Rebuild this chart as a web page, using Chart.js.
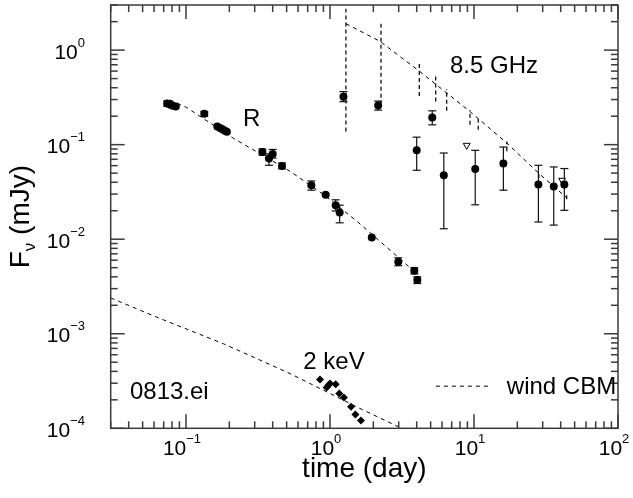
<!DOCTYPE html>
<html>
<head>
<meta charset="utf-8">
<script src="https://cdn.jsdelivr.net/npm/chart.js@4.4.0/dist/chart.umd.min.js"></script>
<style>
    html, body { margin: 0; padding: 0; background: #ffffff; }
    #plot-wrap { width: 633px; height: 498px; position: relative; }
</style>
</head>
<body>
<div id="plot-wrap"><canvas id="plot-canvas"></canvas></div>
<script>
"use strict";

// R band afterglow
const r_time = [0.074, 0.078, 0.081, 0.085, 0.134, 0.165, 0.172, 0.178, 0.185, 0.192, 0.339, 0.377, 0.400, 0.464, 0.742, 0.933, 1.095, 1.167, 1.95, 2.98, 3.85, 4.04];
const r_flux = [0.272, 0.265, 0.258, 0.254, 0.212, 0.156, 0.150, 0.146, 0.141, 0.137, 0.0836, 0.0713, 0.0796, 0.0596, 0.0373, 0.0295, 0.0228, 0.0192, 0.0104, 0.00577, 0.00464, 0.0037];
const r_lo = [0.255, null, null, null, 0.200, null, null, null, null, null, 0.0775, 0.0605, 0.072, 0.0555, 0.033, null, 0.0199, 0.0149, null, 0.00524, 0.0043, 0.0034];
const r_hi = [0.290, null, null, null, 0.224, null, null, null, null, null, 0.0900, 0.080, 0.089, 0.064, 0.0413, null, 0.0261, 0.0229, null, 0.00636, 0.0050, 0.0040];

// R band wind model
const r_model_time = [0.0774, 0.101, 0.213, 0.528, 0.898, 1.53, 4.1];
const r_model_flux = [0.298, 0.247, 0.117, 0.0523, 0.0298, 0.0156, 0.0042];

// 8.5 GHz radio
const radio_time = [1.24, 2.16, 4.00, 5.13, 6.17, 10.2, 16.0, 28.0, 35.8, 42.4];
const radio_flux = [0.322, 0.259, 0.0871, 0.194, 0.0475, 0.0554, 0.0631, 0.0379, 0.0361, 0.0379];
const radio_lo = [0.285, 0.232, 0.0536, 0.162, 0.0129, 0.0231, 0.033, 0.0152, 0.0141, 0.0202];
const radio_hi = [0.364, 0.289, 0.120, 0.228, 0.0816, 0.0871, 0.0944, 0.0605, 0.0581, 0.0559];

// 8.5 GHz upper limits
const radio_ul_time = [8.9, 40.9];
const radio_ul_flux = [0.0984, 0.042];

// 8.5 GHz model and scintillation range
const radio_model_time = [1.29, 2.22, 4.22, 9.38, 16.9, 28.0, 44.0];
const radio_model_flux = [1.905, 1.24, 0.591, 0.224, 0.104, 0.0502, 0.0274];
const scint_time = [1.29, 2.26, 4.17, 5.42, 6.46, 9.38, 10.7, 16.9, 28.2, 44.0];
const scint_lo = [0.138, 0.264, 0.328, 0.286, 0.228, 0.162, 0.144, 0.085, 0.0445, 0.0264];
const scint_hi = [2.74, 2.03, 0.766, 0.546, 0.389, 0.233, 0.199, 0.108, 0.0524, 0.031];

// 2 keV X-ray
const xray_time = [0.852, 0.948, 0.975, 1.0, 1.095, 1.16, 1.25, 1.40, 1.50, 1.64];
const xray_flux = [3.28e-4, 2.70e-4, 2.85e-4, 2.98e-4, 2.92e-4, 2.34e-4, 2.12e-4, 1.69e-4, 1.40e-4, 1.21e-4];
const xray_model_time = [0.03, 0.0625, 0.1815, 0.31, 0.528, 1.70, 2.83, 3.3];
const xray_model_flux = [2.39e-3, 1.50e-3, 7.85e-4, 5.46e-4, 3.79e-4, 1.56e-4, 1.08e-4, 9.7e-5];

// axis ticks
const x_decades = [-1, 0, 1, 2];
const y_decades = [-4, -3, -2, -1, 0];

const font_family = "'Liberation Sans', Arial, Helvetica, sans-serif";
const dash_style = [4, 4];

function toPoints(xs, ys) {
    let pts = [];
    for (let i = 0; i < xs.length; i++) {
        pts.push({ x: xs[i], y: ys[i] });
    }
    return pts;
}

function strokeLine(ctx, x0, y0, x1, y1) {
    ctx.beginPath();
    ctx.moveTo(x0, y0);
    ctx.lineTo(x1, y1);
    ctx.stroke();
}

function drawErrorBars(ctx, xs, lo, hi, xScale, yScale, cap, dash) {
    ctx.setLineDash(dash);
    for (let i = 0; i < xs.length; i++) {
        if (lo[i] === null || hi[i] === null) continue;
        const px = xScale.getPixelForValue(xs[i]);
        const py0 = yScale.getPixelForValue(lo[i]);
        const py1 = yScale.getPixelForValue(hi[i]);
        strokeLine(ctx, px, py0, px, py1);
        if (cap > 0) {
            strokeLine(ctx, px - cap, py0, px + cap, py0);
            strokeLine(ctx, px - cap, py1, px + cap, py1);
        }
    }
    ctx.setLineDash([]);
}

// label like 10^-1, anchor is 'center' (x axis) or 'right' (y axis)
function drawPowerLabel(ctx, exp, px, baseline, anchor) {
    const base = '10';
    const sup = exp < 0 ? '\u2212' + Math.abs(exp) : String(exp);
    ctx.font = '21px ' + font_family;
    const wb = ctx.measureText(base).width;
    ctx.font = '13px ' + font_family;
    const ws = ctx.measureText(sup).width;
    let left = anchor === 'right' ? px - wb - ws : px - (wb + ws) / 2;
    ctx.textAlign = 'left';
    ctx.textBaseline = 'alphabetic';
    ctx.font = '21px ' + font_family;
    ctx.fillText(base, left, baseline);
    ctx.font = '13px ' + font_family;
    ctx.fillText(sup, left + wb, baseline - 12);
}

const errorBarPlugin = {
    id: 'errorBars',
    beforeDatasetsDraw(chart) {
        const { ctx, scales } = chart;
        ctx.save();
        ctx.strokeStyle = '#111';
        ctx.lineWidth = 1.2;
        drawErrorBars(ctx, r_time, r_lo, r_hi, scales.x, scales.y, 4, []);
        drawErrorBars(ctx, radio_time, radio_lo, radio_hi, scales.x, scales.y, 4, []);
        ctx.lineWidth = 1.3;
        drawErrorBars(ctx, scint_time, scint_lo, scint_hi, scales.x, scales.y, 0, [4, 3]);
        ctx.restore();
    }
};

const framePlugin = {
    id: 'frameTicks',
    afterDraw(chart) {
        const { ctx, chartArea: a, scales } = chart;
        const xs = scales.x;
        const ys = scales.y;
        ctx.save();
        ctx.strokeStyle = '#3a3a3a';
        ctx.lineWidth = 1.5;
        ctx.strokeRect(a.left, a.top, a.right - a.left, a.bottom - a.top);

        // inward ticks on all four sides
        for (let d = -2; d <= 2; d++) {
            for (let m = 1; m <= 9; m++) {
                const v = m * Math.pow(10, d);
                if (v < xs.min * 0.999 || v > xs.max * 1.001) continue;
                const px = xs.getPixelForValue(v);
                const len = m === 1 ? 14 : 7;
                strokeLine(ctx, px, a.bottom, px, a.bottom - len);
                strokeLine(ctx, px, a.top, px, a.top + len);
            }
        }
        for (let d = -4; d <= 0; d++) {
            for (let m = 1; m <= 9; m++) {
                const v = m * Math.pow(10, d);
                if (v < ys.min * 0.999 || v > ys.max * 1.001) continue;
                const py = ys.getPixelForValue(v);
                const len = m === 1 ? 14 : 7;
                strokeLine(ctx, a.left, py, a.left + len, py);
                strokeLine(ctx, a.right, py, a.right - len, py);
            }
        }

        // tick labels
        ctx.fillStyle = '#000';
        for (const e of x_decades) {
            const px = xs.getPixelForValue(Math.pow(10, e));
            drawPowerLabel(ctx, e, px - 4, a.bottom + 27, 'center');
        }
        for (const e of y_decades) {
            const py = ys.getPixelForValue(Math.pow(10, e));
            drawPowerLabel(ctx, e, 85, py + 8.5, 'right');
        }

        // axis titles
        ctx.font = '28px ' + font_family;
        ctx.textAlign = 'center';
        ctx.textBaseline = 'alphabetic';
        ctx.fillText('time (day)', (a.left + a.right) / 2, 477);

        ctx.save();
        ctx.translate(29, (a.top + a.bottom) / 2);
        ctx.rotate(-Math.PI / 2);
        ctx.textAlign = 'left';
        ctx.font = '28px ' + font_family;
        const wF = ctx.measureText('F').width;
        const wRest = ctx.measureText(' (mJy)').width;
        ctx.font = '17px ' + font_family;
        const wNu = ctx.measureText('\u03bd').width;
        let start = -(wF + wNu + wRest) / 2;
        ctx.font = '28px ' + font_family;
        ctx.fillText('F', start, 0);
        ctx.font = '17px ' + font_family;
        ctx.fillText('\u03bd', start + wF, 6);
        ctx.font = '28px ' + font_family;
        ctx.fillText(' (mJy)', start + wF + wNu, 0);
        ctx.restore();

        // annotations placed in data space
        ctx.font = '24px ' + font_family;
        ctx.textAlign = 'left';
        const notes = [
            { text: 'R', t: 0.249, f: 0.159 },
            { text: '8.5 GHz', t: 6.81, f: 0.577 },
            { text: '2 keV', t: 0.653, f: 4.28e-4 },
            { text: '0813.ei', t: 0.0408, f: 2.02e-4 }
        ];
        for (const n of notes) {
            ctx.fillText(n.text, xs.getPixelForValue(n.t), ys.getPixelForValue(n.f));
        }

        // legend for the model curves
        const ly = ys.getPixelForValue(2.79e-4);
        ctx.strokeStyle = '#000';
        ctx.lineWidth = 1;
        ctx.setLineDash(dash_style);
        strokeLine(ctx, xs.getPixelForValue(5.44), ly, xs.getPixelForValue(13.3), ly);
        ctx.setLineDash([]);
        ctx.fillText('wind CBM', xs.getPixelForValue(16.9), ly + 8);
        ctx.restore();
    }
};

function modelDataset(xs, ys) {
    return {
        data: toPoints(xs, ys),
        showLine: true,
        borderColor: '#000',
        borderWidth: 1,
        borderDash: dash_style,
        pointRadius: 0,
        fill: false
    };
}

function plotPage() {
    const plotCanvas = document.getElementById('plot-canvas');
    const chart = new Chart(plotCanvas, {
        type: 'scatter',
        data: {
            datasets: [
                modelDataset(r_model_time, r_model_flux),
                modelDataset(radio_model_time, radio_model_flux),
                modelDataset(xray_model_time, xray_model_flux),
                {
                    data: toPoints(r_time, r_flux),
                    pointRadius: 4,
                    pointBackgroundColor: '#000',
                    pointBorderColor: '#000',
                    pointBorderWidth: 0
                },
                {
                    data: toPoints(radio_time, radio_flux),
                    pointRadius: 4,
                    pointBackgroundColor: '#000',
                    pointBorderColor: '#000',
                    pointBorderWidth: 0
                },
                {
                    data: toPoints(radio_ul_time, radio_ul_flux),
                    pointStyle: 'triangle',
                    rotation: 180,
                    pointRadius: 4,
                    pointBackgroundColor: '#fff',
                    pointBorderColor: '#000',
                    pointBorderWidth: 1
                },
                {
                    data: toPoints(xray_time, xray_flux),
                    pointStyle: 'rectRot',
                    pointRadius: 4,
                    pointBackgroundColor: '#000',
                    pointBorderColor: '#000',
                    pointBorderWidth: 0
                }
            ]
        },
        options: {
            responsive: true,
            maintainAspectRatio: false,
            animation: false,
            devicePixelRatio: 1,
            layout: {
                padding: { left: 110.7, right: 15, top: 3.3, bottom: 69.7 }
            },
            plugins: {
                legend: { display: false },
                tooltip: { enabled: false }
            },
            scales: {
                x: { type: 'logarithmic', min: 0.03, max: 100, display: false },
                y: { type: 'logarithmic', min: 1e-4, max: 3, display: false }
            }
        },
        plugins: [errorBarPlugin, framePlugin]
    });
    return chart;
}

plotPage();
</script>
</body>
</html>
